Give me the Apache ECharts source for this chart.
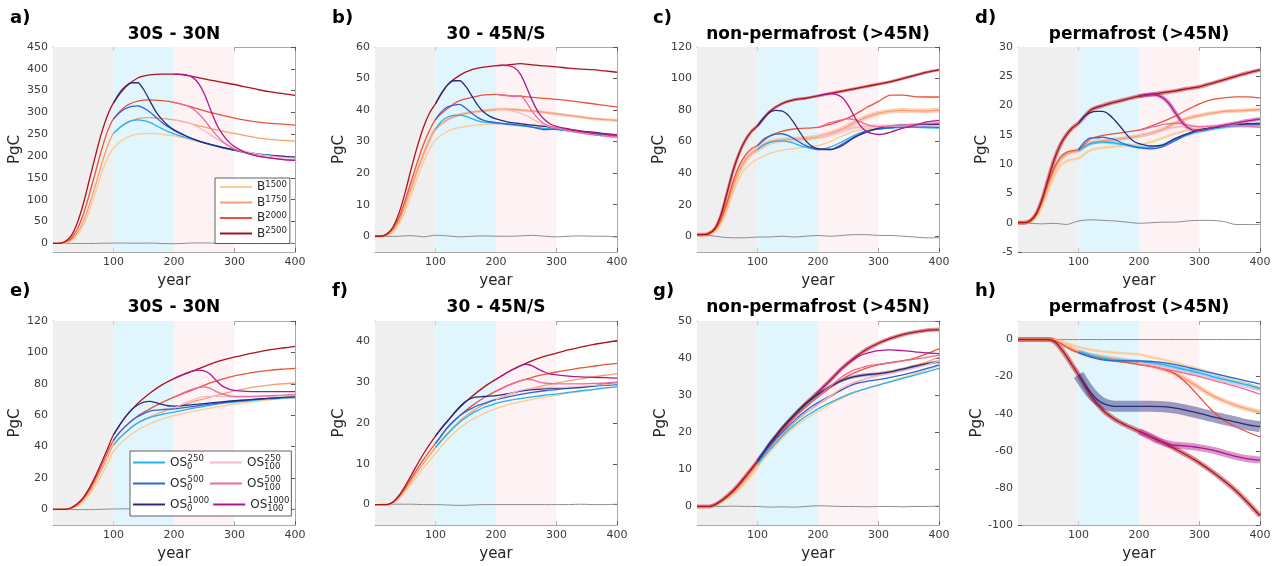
<!DOCTYPE html>
<html>
<head>
<meta charset="utf-8">
<script src="https://cdn.jsdelivr.net/npm/echarts@6/dist/echarts.min.js"></script>
<style>
  html, body { margin: 0; padding: 0; background: #fff; }
  #chart { width: 1279px; height: 566px; }
</style>
</head>
<body>
<div id="chart"></div>
<script>
// ---- sample years (each family of runs has its own time axis) ----
const YRS_B = [0,10,20,30,40,50,60,70,80,90,100,120,140,160,180,200,220,240,260,280,300,320,340,360,380,400];
const YRS_OS0 = [100,110,120,130,140,150,160,170,180,190,200,220,240,260,280,300,320,340,360,380,400];
const YRS_OS100 = [200,210,220,230,240,250,260,270,280,290,300,320,340,360,380,400];
const YRS_CTRL = [0,20,40,60,80,100,120,140,160,180,200,220,240,260,280,300,320,340,360,380,400];

const X_TICKS = [100,200,300,400];
const TICKS_A = [0,50,100,150,200,250,300,350,400,450];
const TICKS_B = [0,10,20,30,40,50,60];
const TICKS_C = [0,20,40,60,80,100,120];
const TICKS_D = [-5,0,5,10,15,20,25,30];
const TICKS_E = [0,20,40,60,80,100,120];
const TICKS_F = [0,10,20,30,40];
const TICKS_G = [0,10,20,30,40,50];
const TICKS_H = [-100,-80,-60,-40,-20,0];

// ---- a) 30S - 30N, biomass runs ----
const a_B1500 = [0,0,1,6,18,40,75,115,160,195,219,241,250,252,250,246,240,233,226,219,214,209,205,202,200,198];
const a_B1750 = [0,0,2,8,24,50,88,132,180,222,252,274,286,288,286,283,277,270,263,257,252,246,241,238,236,234];
const a_B2000 = [0,0,3,11,32,66,112,162,213,256,285,314,326,329,327,323,316,308,300,293,287,282,278,275,273,271];
const a_B2500 = [0,0,4,17,46,90,145,200,252,293,322,358,379,386,388,388,385,380,374,369,364,358,352,347,343,339];
const a_OS0_250 = [252,265,275,281,283,281,277,270,263,256,251,242,234,227,220,214,209,205,202,199,197];
const a_OS0_500 = [285,299,309,314,315,310,301,289,277,267,259,246,235,226,219,213,208,204,201,199,197];
const a_OS0_1000 = [322,345,360,368,368,352,327,302,284,270,260,246,235,227,220,214,208,204,201,199,197];
const a_OS100_250 = [283,281,278,273,266,258,249,240,232,225,219,210,204,200,197,195];
const a_OS100_500 = [323,320,316,309,298,283,265,248,234,223,216,206,200,196,193,191];
const a_OS100_1000 = [388,388,386,381,368,343,308,274,250,233,222,207,199,195,192,190];
const a_CTRL = [0,0,-0.5,-0.5,0,0.5,0.5,0,0.5,-0.5,-1,0,1,0.5,0,-0.5,0,0.5,0,0,0];

// ---- b) 30 - 45N/S ----
const b_B1500 = [0,0,0.3,1.5,4,8,13,18.5,23.5,27.5,30.5,33.3,34.5,35.1,35.4,35.6,35.7,35.6,35.3,35,34.6,34,33.4,32.8,32.2,31.7];
const b_B1750 = [0,0,0.4,2,5,10,15.5,21,26,30.5,34,37,38.5,39.3,39.8,40.2,40.3,40,39.7,39.3,38.8,38.3,37.8,37.3,37,36.7];
const b_B2000 = [0,0,0.6,2.5,6,11.5,17.5,23.5,29,33.5,37,40.5,43,44,44.8,45,44.6,44.4,44,43.7,43.4,43,42.5,42,41.5,41];
const b_B2500 = [0,0,0.8,3,7.5,14,21.5,28.5,34.5,39,42,48,51,52.8,53.6,54.1,54.3,54.7,54.3,54,53.7,53.3,53,52.8,52.4,52];
const b_OS0_250 = [34,36.5,37.8,38.3,38.4,38,37.3,36.6,36.2,36,35.8,35.4,35,34.6,34.2,33.8,33.3,32.8,32.3,31.8,31.4];
const b_OS0_500 = [37,39.5,41,41.6,41.8,40.6,39,37.6,36.7,36.3,36,35.6,35.2,34.6,33.8,34,33.5,33,32.5,32,31.8];
const b_OS0_1000 = [42,45.5,48,49.3,49.3,47.5,44.5,41.5,39.3,38,37.2,36.2,35.7,35.2,34.8,34.3,33.8,33.3,33,32.5,32.2];
const b_OS100_250 = [40.2,40.2,40,39.6,39,38.2,37.2,36.2,35.3,34.7,34.3,33.5,32.8,32.2,31.7,31.3];
const b_OS100_500 = [45,44.7,44.5,44.3,44.6,42.5,39.5,37.2,35.6,34.8,34.3,33.5,32.8,32.2,31.8,31.4];
const b_OS100_1000 = [54.1,54.2,54.1,53.5,51.5,47.5,43,39.3,37,35.6,34.8,34,33.3,32.8,32.4,32.2];
const b_CTRL = [0,-0.1,0,0.2,-0.2,0.3,0.1,-0.2,0,0.1,0,0,0.1,0.3,0,-0.2,0,0.1,0,0,-0.3];

// ---- c) non-permafrost (>45N) ----
const c_B1500 = [1,1,1.3,3,8,17,28,37,43,46.5,49,52.5,54.5,55.5,56.5,57.5,60,63.5,66.5,68,69,69.5,70,70,70,70];
const c_B1750 = [1,1,1.5,4,10,20,32,42,48.5,52.5,55,59.5,61,61.5,62,63,65,68,72,75.5,78,79.3,79.8,79.5,79.5,80];
const c_B2000 = [1,1,1.5,4.5,11,22,35,45,51.5,55.5,57.5,63.5,66.5,68,68.5,69,71,73.5,77,81.5,85.5,89.5,89.5,88.5,88.3,88.3];
const c_B2500 = [1,1,1.8,5,14,28,42,53,61,66.5,70,79,84,86.5,87.5,89,90.5,92,93.5,95,96.5,98,100,102,104,105.5];
const c_OS0_250 = [55,58,59.5,60.3,60.5,60,59,57.5,56.5,55.5,55,56.5,60,64,66.8,68,68.5,69,69,68.8,68.5];
const c_OS0_500 = [57.5,61.5,63.5,64.8,65,64,62,59.5,57.5,56,55,55,58.5,63,66.5,68,68.8,69.3,69.5,69.5,69];
const c_OS0_1000 = [70,75,78.5,79.8,79.5,77,72,66,60.5,57,55.5,55,57.5,62.5,66,68.5,70,70.5,70.5,71,71];
const c_OS100_250 = [63,63.8,64.5,65.8,67,68,69,69.3,69.5,69.5,69.5,70,70,70,70,70];
const c_OS100_500 = [69,70.5,72,73,74,74.5,74,72.5,71,70,69.5,70,70.5,71,71.5,72];
const c_OS100_1000 = [89,90,90.5,90,88,83,76,70,66.5,65,64.5,66,68.5,70.5,72.5,73.5];
const c_CTRL = [1,0.5,-0.5,-1,-1,-0.5,-0.5,0,-0.5,0,0.5,0,0.5,1,1,0.5,0.5,0,-0.5,-1,-1];

// ---- d) permafrost (>45N) ----
const d_B1500 = [0,0,0.2,1,3,5.5,8,9.7,10.5,10.8,11,12.4,12.8,13,13.2,13.3,13.8,14.5,15.2,15.8,16.1,16.3,16.4,16.5,16.6,16.7];
const d_B1750 = [0,0,0.25,1.2,3.5,6.5,9,10.8,11.7,12.1,12.3,13.6,14,14.2,14.5,14.8,15.3,16,17,17.8,18.3,18.7,19,19.1,19.2,19.3];
const d_B2000 = [0,0,0.3,1.3,3.7,6.8,9.4,11.2,12,12.3,12.5,14.3,14.9,15.2,15.5,15.8,16.5,17.3,18.2,19.3,20.3,21,21.3,21.5,21.5,21.3];
const d_B2500 = [0,0,0.3,1.5,4,7.5,10.8,13.3,15,16.2,17,19.2,20,20.6,21.1,21.6,21.9,22.2,22.5,22.9,23.2,23.8,24.4,25,25.6,26.1];
const d_OS0_250 = [12.3,13,13.5,13.7,13.8,13.7,13.6,13.4,13.3,13.1,12.9,12.8,13.3,14.2,15,15.6,16,16.3,16.5,16.5,16.5];
const d_OS0_500 = [12.5,13.8,14.5,14.5,14.6,14.4,14.2,13.7,13.3,13,12.8,12.6,13,14,15.1,15.8,16.2,16.5,16.6,16.7,16.8];
const d_OS0_1000 = [17,18.2,18.8,19,19,18.5,17.5,16.3,15,14,13.5,13.1,13.3,14.4,15.2,15.9,16.2,16.5,16.7,16.9,17];
const d_OS100_250 = [14.8,15,15.2,15.5,15.8,16.1,16.3,16.4,16.5,16.5,16.4,16.5,16.6,16.6,16.5,16.4];
const d_OS100_500 = [15.8,16,16.3,16.5,16.8,16.9,17,16.9,16.7,16.5,16.4,16.5,16.6,16.6,16.5,16.3];
const d_OS100_1000 = [21.6,21.8,21.9,21.8,21.3,20.3,18.8,17.3,16.3,15.8,15.8,16.2,16.6,17,17.4,17.7];
const d_CTRL = [0,-0.1,-0.2,-0.1,-0.3,0.3,0.5,0.4,0.3,0.1,-0.1,0,0.1,0.1,0.3,0.4,0.4,0.2,-0.3,-0.3,-0.3];

// ---- e) 30S - 30N, overshoot runs ----
const e_B1500 = [0,0,0,0.5,2,5,9.5,15,21.5,29,37,45,50.5,54.5,57.5,59.7,61.5,63,64.5,65.8,67,68,69,69.8,70.5,71];
const e_B1750 = [0,0,0,0.7,2.5,6,11,17.5,25,33,41,49,55,59,62,64.5,67,69.5,71.5,73.5,75.5,77,78.3,79.3,80,80.5];
const e_B2000 = [0,0,0,0.8,3,6.8,12.3,19.5,27.5,36,44,53,59.5,64,68,71.5,74.5,77.5,80.5,83,85,86.5,87.8,88.7,89.3,89.8];
const e_B2500 = [0,0,0,1,3.5,7.5,13.5,21,29.5,38.5,47.5,59,67.5,74,79.3,83.3,86.5,89.5,92.5,95,97,98.8,100.3,101.7,102.8,103.8];
const e_OS0_250 = [41,45.5,49,52.5,55,57,58.5,59.5,60.5,61.3,62,63.5,65,66.3,67.5,68.3,69,69.8,70.3,70.8,71.2];
const e_OS0_500 = [44,49,53,56.5,59,61,62.6,63.2,63.5,63.8,64,65,66,67,68,68.8,69.5,70.2,70.8,71.3,71.7];
const e_OS0_1000 = [47.5,53.5,59,63.5,66.5,68.3,68.8,68,66.8,66,65.8,66.3,67,67.8,68.5,69.2,69.8,70.3,70.8,71.3,71.8];
const e_OS100_250 = [64.5,66.3,68,69.6,71,71.8,72,72,72,71.8,71.5,71.5,71.8,72,72.3,72.5];
const e_OS100_500 = [71.5,73.3,75,76.5,77.5,78,77,75,73.5,72.5,72,72,72.2,72.5,72.8,73.2];
const e_OS100_1000 = [83.3,85,86.8,88,88.7,88.2,86,82,78.5,76.8,75.8,75.2,75,75,75,75];
const e_CTRL = [0,0,-0.2,-0.2,0,0.2,0.3,0.2,0,0,0,0,0,0,0,0,0,0,0,0,0];

// ---- f) 30 - 45N/S ----
const f_B1500 = [0,0,0,0.4,1.5,3.2,5,7,9,10.8,12.5,16,18.8,20.8,22.3,23.5,24.5,25.2,25.8,26.3,26.8,27.3,27.7,28.1,28.5,28.8];
const f_B1750 = [0,0,0,0.5,1.8,3.7,5.8,8,10.1,12.1,14,17.5,20.5,22.8,24.5,25.8,26.9,27.8,28.5,29.2,29.8,30.3,30.8,31.3,31.7,32.1];
const f_B2000 = [0,0,0,0.6,2,4.1,6.4,8.8,11,13.1,15,18.8,21.8,24.2,26.2,27.8,29.2,30.3,31.2,31.9,32.5,33,33.5,33.9,34.3,34.6];
const f_B2500 = [0,0,0,0.7,2.3,4.6,7.2,9.9,12.4,14.7,16.8,20.5,23.8,26.5,28.8,30.7,32.5,34,35.3,36.3,37.1,37.9,38.6,39.2,39.7,40.2];
const f_OS0_250 = [14,15.7,17.3,18.8,20.2,21.3,22.3,23.1,23.8,24.3,24.8,25.5,26,26.4,26.8,27.1,27.5,27.9,28.2,28.6,28.9];
const f_OS0_500 = [15,17,19,20.5,21.8,22.8,23.6,24.3,24.8,25.3,25.7,26.4,27,27.5,27.9,28.2,28.5,28.7,29,29.2,29.4];
const f_OS0_1000 = [16.8,18.8,20.5,22.3,24,25.3,26.1,26.4,26.5,26.6,26.7,27.2,27.8,28.2,28.4,28.5,28.6,28.8,29.1,29.5,29.9];
const f_OS100_250 = [25.8,26.4,27,27.5,28,28.3,28.5,28.6,28.6,28.7,28.7,28.8,29,29.2,29.4,29.7];
const f_OS100_500 = [27.8,28.5,29.2,29.8,30.3,30.7,30.6,30.1,29.8,29.7,29.6,29.6,29.6,29.7,29.8,30];
const f_OS100_1000 = [30.7,31.6,32.5,33.3,34,34.4,34,33.2,32.5,32,31.8,31.5,31.3,31.2,31.1,31];
const f_CTRL = [0,0.1,0.1,0.1,0,0,-0.1,-0.2,-0.1,0,0,0,0,0,0,0,0,0.1,0,0,0.1];

// ---- g) non-permafrost (>45N) ----
const g_B1500 = [0,0,0,0.3,1,2,3.2,4.7,6.3,8.2,10.5,14.5,18.2,21.2,23.6,25.6,27.5,29.2,30.6,31.8,32.8,33.8,34.8,35.8,36.8,37.8];
const g_B1750 = [0,0,0,0.4,1.2,2.3,3.6,5.2,7,9,11.3,15.5,19.3,22.5,25.2,27.5,29.5,31.5,33.2,34.5,35.5,36.3,37,38,39,40.3];
const g_B2000 = [0,0,0,0.5,1.4,2.6,4,5.8,7.8,9.9,12,16.3,20.3,23.8,26.8,29.5,32,34.3,36,37.3,38.2,38.8,39.3,40,41.2,42.5];
const g_B2500 = [0,0,0,0.5,1.5,2.8,4.3,6.1,8.1,10.1,12.2,16.5,20.8,24.5,27.8,30.8,34,37.3,40,42.3,44,45.3,46.3,47,47.5,47.7];
const g_OS0_250 = [11.3,13.3,15.2,17,18.8,20.4,21.8,23.1,24.3,25.3,26.3,28,29.5,30.8,31.8,32.7,33.6,34.5,35.4,36.3,37.2];
const g_OS0_500 = [12,14.2,16.2,18.1,19.8,21.5,23,24.5,25.8,27,28,29.8,31.5,33,33.7,34.2,34.8,35.5,36.3,37.2,38.2];
const g_OS0_1000 = [12.2,14.6,17,19,21,22.8,24.5,26.2,27.7,29,30.2,32.3,34,35,35.5,35.8,36.3,37,37.8,38.5,39];
const g_OS100_250 = [27.5,28.7,29.8,30.9,32,32.8,33.5,34,34.5,34.9,35.2,35.8,36.5,37.3,38.2,39.2];
const g_OS100_500 = [29.5,31,32.3,33.7,35,36,36.8,37.3,37.8,38.1,38.3,38.7,39.2,39.7,40.2,40.8];
const g_OS100_1000 = [30.8,32.4,34,35.7,37.3,38.6,39.8,40.7,41.3,41.7,42,42.2,42,41.7,41.4,41.2];
const g_CTRL = [0,0,0,0.1,0,0,-0.2,-0.1,-0.2,0,0.2,0.1,0,0,-0.1,0,0,-0.1,0,0,0.1];

// ---- h) permafrost (>45N) ----
const h_B1500 = [0,0,0,0,0,0,0,-0.8,-1.8,-3,-4,-5.5,-6.5,-7,-7.5,-8,-9.5,-10.8,-12.5,-14.3,-16,-18,-20,-22,-24,-26];
const h_B1750 = [0,0,0,0,0,0,-0.3,-1.8,-3.5,-5.2,-6.5,-8.5,-9.5,-10.5,-11.5,-12.5,-14,-16,-18.5,-22,-26,-30,-33,-35.5,-37.5,-39];
const h_B2000 = [0,0,0,0,0,0,-0.4,-2,-4,-5.8,-7,-9,-10.5,-11.5,-12.5,-13.5,-14.5,-16,-18.5,-24,-31,-38,-43.5,-47,-50,-52.5];
const h_B2500 = [0,0,0,0,0,0,-1,-4.5,-9,-14,-19,-30,-38,-43,-46.5,-49.5,-52.5,-55.5,-59,-62.5,-66.5,-71,-76,-81.5,-88,-95];
const h_OS0_250 = [-6.5,-7.5,-8.5,-9.3,-10,-10.5,-11,-11.3,-11.5,-11.8,-12,-12.5,-13.5,-15,-16.5,-18,-19.8,-21.5,-23,-24.5,-26.5];
const h_OS0_500 = [-7,-8.3,-9.5,-10.3,-11,-11.3,-11.5,-11.5,-11.5,-11.5,-11.5,-11.8,-12.5,-13.5,-15,-16.5,-18,-19.5,-21,-22.5,-24];
const h_OS0_1000 = [-19,-24,-28.5,-32,-34.3,-35.5,-36,-36,-36,-36,-36,-36,-36.2,-37,-38.3,-39.8,-41.5,-43,-44.5,-46,-47];
const h_OS100_250 = [-12.5,-13,-13.5,-14.2,-15,-15.8,-16.5,-17.3,-18,-18.8,-19.5,-21,-22.8,-24.5,-26,-27.5];
const h_OS100_500 = [-13.5,-14,-14.5,-15.2,-15.8,-16.4,-17,-17.8,-18.5,-19.2,-20,-21.8,-23.5,-25.3,-27.3,-29.5];
const h_OS100_1000 = [-49.5,-51,-52.5,-54.2,-55.5,-56.4,-57,-57.2,-57.5,-57.8,-58.3,-59.5,-61.3,-63,-64.3,-65];
const h_CTRL = [0,0,0,0,0,0,0,0,0,0,0,0,0,0,0,0,0,0,0,0,0];

// ---- styling ----
const FONT = '"DejaVu Sans", "Liberation Sans", sans-serif';
const AXIS_C = '#a8a8a8';
const TICK_C = '#5a5a5a';
const LABEL_C = '#3c3c3c';
const CTRL_C = '#8e8e8e';

const SCENARIOS = [
  { key: 'B1500',      xs: YRS_B,     color: '#fdcb8f' },
  { key: 'B1750',      xs: YRS_B,     color: '#f99e70' },
  { key: 'B2000',      xs: YRS_B,     color: '#ea533a' },
  { key: 'B2500',      xs: YRS_B,     color: '#ad111c' },
  { key: 'OS0_250',    xs: YRS_OS0,   color: '#22b2f0' },
  { key: 'OS0_500',    xs: YRS_OS0,   color: '#2864dc' },
  { key: 'OS0_1000',   xs: YRS_OS0,   color: '#2a2b7b' },
  { key: 'OS100_250',  xs: YRS_OS100, color: '#f7b9c6' },
  { key: 'OS100_500',  xs: YRS_OS100, color: '#ee6a9d' },
  { key: 'OS100_1000', xs: YRS_OS100, color: '#b0168d' }
];

const COL_LEFT = [53, 375, 697, 1018];
const ROW_TOP = [47, 321];
const ROW_H = [205, 204];
const GRID_W = 242;

const panels = [
  { label: 'a)', title: '30S - 30N', col: 0, row: 0, yMin: -20, yMax: 450, yTicks: TICKS_A, ctrl: a_CTRL,
    runs: { B1500: a_B1500, B1750: a_B1750, B2000: a_B2000, B2500: a_B2500, OS0_250: a_OS0_250, OS0_500: a_OS0_500, OS0_1000: a_OS0_1000, OS100_250: a_OS100_250, OS100_500: a_OS100_500, OS100_1000: a_OS100_1000 },
    bands: {} },
  { label: 'b)', title: '30 - 45N/S', col: 1, row: 0, yMin: -5, yMax: 60, yTicks: TICKS_B, ctrl: b_CTRL,
    runs: { B1500: b_B1500, B1750: b_B1750, B2000: b_B2000, B2500: b_B2500, OS0_250: b_OS0_250, OS0_500: b_OS0_500, OS0_1000: b_OS0_1000, OS100_250: b_OS100_250, OS100_500: b_OS100_500, OS100_1000: b_OS100_1000 },
    bands: { B1750: 3 } },
  { label: 'c)', title: 'non-permafrost (>45N)', col: 2, row: 0, yMin: -10, yMax: 120, yTicks: TICKS_C, ctrl: c_CTRL,
    runs: { B1500: c_B1500, B1750: c_B1750, B2000: c_B2000, B2500: c_B2500, OS0_250: c_OS0_250, OS0_500: c_OS0_500, OS0_1000: c_OS0_1000, OS100_250: c_OS100_250, OS100_500: c_OS100_500, OS100_1000: c_OS100_1000 },
    bands: { B2500: 3, B1750: 5, OS100_250: 5 } },
  { label: 'd)', title: 'permafrost (>45N)', col: 3, row: 0, yMin: -5, yMax: 30, yTicks: TICKS_D, ctrl: d_CTRL,
    runs: { B1500: d_B1500, B1750: d_B1750, B2000: d_B2000, B2500: d_B2500, OS0_250: d_OS0_250, OS0_500: d_OS0_500, OS0_1000: d_OS0_1000, OS100_250: d_OS100_250, OS100_500: d_OS100_500, OS100_1000: d_OS100_1000 },
    bands: { B2500: 4, B1750: 4, B1500: 3, OS0_250: 3, OS100_1000: 4, OS100_250: 3 } },
  { label: 'e)', title: '30S - 30N', col: 0, row: 1, yMin: -10, yMax: 120, yTicks: TICKS_E, ctrl: e_CTRL,
    runs: { B1500: e_B1500, B1750: e_B1750, B2000: e_B2000, B2500: e_B2500, OS0_250: e_OS0_250, OS0_500: e_OS0_500, OS0_1000: e_OS0_1000, OS100_250: e_OS100_250, OS100_500: e_OS100_500, OS100_1000: e_OS100_1000 },
    bands: {} },
  { label: 'f)', title: '30 - 45N/S', col: 1, row: 1, yMin: -5, yMax: 45, yTicks: TICKS_F, ctrl: f_CTRL,
    runs: { B1500: f_B1500, B1750: f_B1750, B2000: f_B2000, B2500: f_B2500, OS0_250: f_OS0_250, OS0_500: f_OS0_500, OS0_1000: f_OS0_1000, OS100_250: f_OS100_250, OS100_500: f_OS100_500, OS100_1000: f_OS100_1000 },
    bands: {} },
  { label: 'g)', title: 'non-permafrost (>45N)', col: 2, row: 1, yMin: -5, yMax: 50, yTicks: TICKS_G, ctrl: g_CTRL,
    runs: { B1500: g_B1500, B1750: g_B1750, B2000: g_B2000, B2500: g_B2500, OS0_250: g_OS0_250, OS0_500: g_OS0_500, OS0_1000: g_OS0_1000, OS100_250: g_OS100_250, OS100_500: g_OS100_500, OS100_1000: g_OS100_1000 },
    bands: { B2500: 4, OS0_1000: 3 } },
  { label: 'h)', title: 'permafrost (>45N)', col: 3, row: 1, yMin: -100, yMax: 10, yTicks: TICKS_H, ctrl: h_CTRL,
    runs: { B1500: h_B1500, B1750: h_B1750, B2000: h_B2000, B2500: h_B2500, OS0_250: h_OS0_250, OS0_500: h_OS0_500, OS0_1000: h_OS0_1000, OS100_250: h_OS100_250, OS100_500: h_OS100_500, OS100_1000: h_OS100_1000 },
    bands: { OS0_1000: 11, OS100_1000: 7, B2500: 5, B1750: 5, OS0_250: 4, B1500: 3 } }
];

const toPairs = (xs, ys) => ys.map((v, i) => [xs[i], v]);

const grid = [], xAxis = [], yAxis = [], series = [], graphic = [];

panels.forEach((p, i) => {
  const left = COL_LEFT[p.col], top = ROW_TOP[p.row], h = ROW_H[p.row];
  grid.push({ left: left, top: top, width: GRID_W, height: h, containLabel: false });

  const tickStyle = { show: true, inside: true, length: 4, lineStyle: { color: TICK_C, width: 1 } };
  const lineStyle = { show: true, onZero: false, lineStyle: { color: AXIS_C, width: 1 } };

  xAxis.push({
    gridIndex: i, type: 'value', min: 0, max: 400, position: 'bottom',
    axisLine: lineStyle,
    axisTick: Object.assign({ customValues: X_TICKS }, tickStyle),
    axisLabel: { customValues: X_TICKS, margin: 5, fontSize: 11, color: LABEL_C, fontFamily: FONT },
    splitLine: { show: false },
    name: 'year', nameLocation: 'middle', nameGap: 22,
    nameTextStyle: { fontSize: 15, color: '#262626', fontFamily: FONT }
  });
  xAxis.push({
    gridIndex: i, type: 'value', min: 0, max: 400, position: 'top',
    axisLine: lineStyle,
    axisTick: Object.assign({ customValues: X_TICKS }, tickStyle),
    axisLabel: { show: false }, splitLine: { show: false }
  });
  yAxis.push({
    gridIndex: i, type: 'value', min: p.yMin, max: p.yMax, position: 'left',
    axisLine: lineStyle,
    axisTick: Object.assign({ customValues: p.yTicks }, tickStyle),
    axisLabel: { customValues: p.yTicks, margin: 5, fontSize: 11, color: LABEL_C, fontFamily: FONT },
    splitLine: { show: false },
    name: 'PgC', nameLocation: 'middle', nameGap: 28,
    nameTextStyle: { fontSize: 15, color: '#262626', fontFamily: FONT }
  });
  yAxis.push({
    gridIndex: i, type: 'value', min: p.yMin, max: p.yMax, position: 'right',
    axisLine: lineStyle,
    axisTick: Object.assign({ customValues: p.yTicks }, tickStyle),
    axisLabel: { show: false }, splitLine: { show: false }
  });

  const xi = 2 * i, yi = 2 * i;

  // experiment-phase shading: spin-up, overshoot 0, overshoot 100
  series.push({
    type: 'line', xAxisIndex: xi, yAxisIndex: yi, silent: true, z: 1,
    data: toPairs(YRS_CTRL, p.ctrl), symbol: 'none', lineStyle: { opacity: 0 },
    markArea: {
      silent: true,
      data: [
        [{ xAxis: 0, itemStyle: { color: '#efefef' } }, { xAxis: 100 }],
        [{ xAxis: 100, itemStyle: { color: '#e1f5fd' } }, { xAxis: 200 }],
        [{ xAxis: 200, itemStyle: { color: '#fdf3f5' } }, { xAxis: 300 }]
      ]
    }
  });

  // ensemble spread drawn as a wide translucent stroke beneath each run
  SCENARIOS.forEach(s => {
    const w = p.bands[s.key];
    if (!w) return;
    series.push({
      type: 'line', name: s.key + ' spread', xAxisIndex: xi, yAxisIndex: yi, silent: true, z: 2,
      data: toPairs(s.xs, p.runs[s.key]), symbol: 'none', smooth: 0.3,
      lineStyle: { color: s.color, width: w, opacity: 0.45, cap: 'butt' }
    });
  });

  // control run
  series.push({
    type: 'line', name: 'control', xAxisIndex: xi, yAxisIndex: yi, silent: true, z: 3,
    data: toPairs(YRS_CTRL, p.ctrl), symbol: 'none', smooth: 0.3,
    lineStyle: { color: CTRL_C, width: 1 }
  });

  SCENARIOS.forEach(s => {
    series.push({
      type: 'line', name: s.key, xAxisIndex: xi, yAxisIndex: yi, silent: true, z: 3,
      data: toPairs(s.xs, p.runs[s.key]), symbol: 'none', smooth: 0.3,
      itemStyle: { color: s.color },
      lineStyle: { color: s.color, width: 1.3 }
    });
  });

  // panel letter and title
  const labelY = p.row === 0 ? 18 : 291;
  const titleY = p.row === 0 ? 35 : 308;
  const labelX = [10, 332, 653, 975][p.col];
  graphic.push({
    type: 'text', x: labelX, y: labelY, silent: true,
    style: { text: p.label, font: 'bold 18px ' + FONT, fill: '#000',
             align: 'left', verticalAlign: 'middle', textAlign: 'left', textVerticalAlign: 'middle' }
  });
  graphic.push({
    type: 'text', x: left + GRID_W / 2, y: titleY, silent: true,
    style: { text: p.title, font: 'bold 17px ' + FONT, fill: '#000',
             align: 'center', verticalAlign: 'middle', textAlign: 'center', textVerticalAlign: 'middle' }
  });
});

const richText = {
  m: { fontSize: 12, fontFamily: FONT, color: '#262626', verticalAlign: 'middle' },
  t: { fontSize: 8.5, fontFamily: FONT, color: '#262626', verticalAlign: 'top' },
  b: { fontSize: 8.5, fontFamily: FONT, color: '#262626', verticalAlign: 'bottom', width: 0.5 }
};

const legend = [
  {
    left: 215, top: 178, orient: 'vertical', selectedMode: false,
    itemWidth: 32, itemHeight: 2, itemGap: 1.5, icon: 'rect',
    padding: [2, 3, 3, 5], backgroundColor: '#fff', borderColor: '#3a3a3a', borderWidth: 0.8,
    data: ['B1500', 'B1750', 'B2000', 'B2500'],
    formatter: n => '{m|B}{t|' + n.slice(1) + '}',
    textStyle: { lineHeight: 14, rich: {
      m: Object.assign({}, richText.m, { lineHeight: 14 }),
      t: Object.assign({}, richText.t, { lineHeight: 14 }) } }
  },
  {
    left: 130, top: 451, orient: 'horizontal', width: 172, selectedMode: false,
    itemWidth: 32, itemHeight: 2, itemGap: 4, icon: 'rect',
    padding: [3, 2, 3, 3], backgroundColor: '#fff', borderColor: '#3a3a3a', borderWidth: 0.8,
    data: ['OS0_250', 'OS100_250', 'OS0_500', 'OS100_500', 'OS0_1000', 'OS100_1000'],
    formatter: n => {
      const parts = n.slice(2).split('_');
      return '{m|OS}{b|' + parts[0] + '}{t|' + parts[1] + '}';
    },
    textStyle: { width: 36, lineHeight: 17, rich: {
      m: Object.assign({}, richText.m, { lineHeight: 17 }),
      t: Object.assign({}, richText.t, { lineHeight: 17 }),
      b: Object.assign({}, richText.b, { lineHeight: 17 }) } }
  }
];

const chart = echarts.init(document.getElementById('chart'), null, { renderer: 'canvas' });
chart.setOption({
  animation: false,
  backgroundColor: '#fff',
  grid: grid, xAxis: xAxis, yAxis: yAxis,
  legend: legend,
  graphic: graphic,
  series: series
});
</script>
</body>
</html>
